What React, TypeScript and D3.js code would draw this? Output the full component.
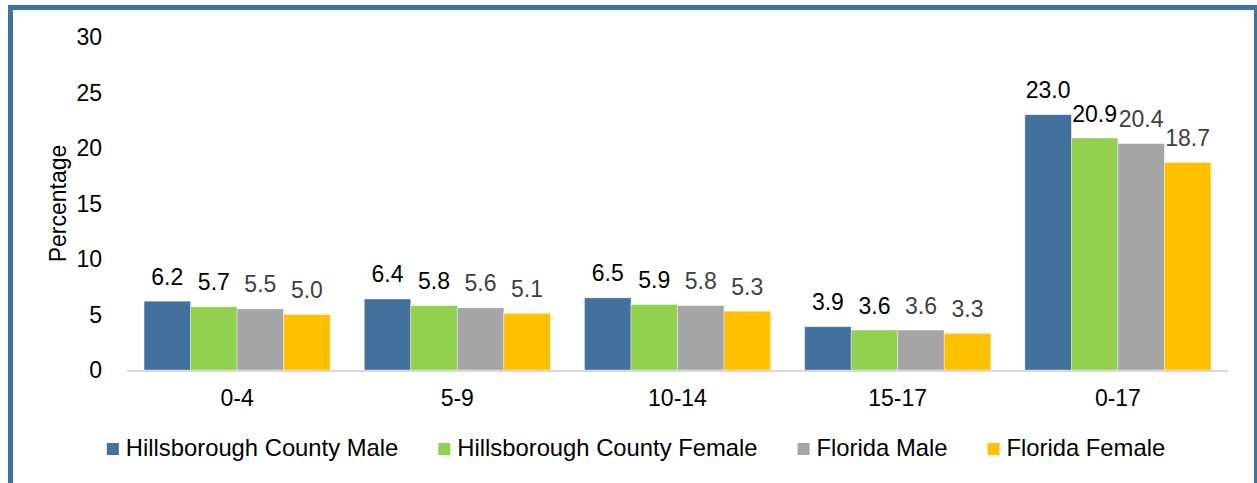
import React, { useRef, useEffect } from 'react';
import * as d3 from 'd3';

const ageGroups = ['0-4', '5-9', '10-14', '15-17', '0-17'];
const seriesNames = [
  'Hillsborough County Male',
  'Hillsborough County Female',
  'Florida Male',
  'Florida Female',
];
const hillsMale = [6.2, 6.4, 6.5, 3.9, 23.0];
const hillsFemale = [5.7, 5.8, 5.9, 3.6, 20.9];
const flMale = [5.5, 5.6, 5.8, 3.6, 20.4];
const flFemale = [5.0, 5.1, 5.3, 3.3, 18.7];
const yTicks = [0, 5, 10, 15, 20, 25, 30];

const colors = ['#41719C', '#92D050', '#A5A5A5', '#FFC000'];
const labelColors = ['#000000', '#000000', '#404040', '#404040'];

const W = 1257;
const H = 483;
const FONT = '"Liberation Sans", Arial, sans-serif';

function App() {
  const svgRef = useRef<SVGSVGElement | null>(null);

  useEffect(() => {
    const svg = d3.select(svgRef.current);
    svg.selectAll('*').remove();

    const allSeries = [hillsMale, hillsFemale, flMale, flFemale];

    // chart frame (blue border, thicker on the left/top)
    svg.append('rect').attr('x', 8).attr('y', 5).attr('width', W - 8).attr('height', 5).attr('fill', '#41719C');
    svg.append('rect').attr('x', 8).attr('y', 5).attr('width', 5).attr('height', H - 5).attr('fill', '#41719C');
    svg.append('rect').attr('x', W - 3).attr('y', 5).attr('width', 3).attr('height', H - 5).attr('fill', '#41719C');

    const x0 = d3.scaleBand().domain(ageGroups).range([127, 1228]).paddingInner(0.155).paddingOuter(0.0775);
    const x1 = d3.scaleBand().domain(seriesNames).range([0, x0.bandwidth()]);
    const y = d3.scaleLinear().domain([0, 30]).range([370, 37]);

    // y tick labels
    svg
      .append('g')
      .selectAll('text')
      .data(yTicks)
      .join('text')
      .attr('x', 102)
      .attr('y', (d) => y(d))
      .attr('dy', '0.35em')
      .attr('text-anchor', 'end')
      .attr('font-family', FONT)
      .attr('font-size', 23)
      .text((d) => d);

    svg
      .append('text')
      .attr('transform', `translate(66,${(y(0) + y(30)) / 2}) rotate(-90)`)
      .attr('text-anchor', 'middle')
      .attr('font-family', FONT)
      .attr('font-size', 23)
      .text('Percentage');

    // bars
    const groups = svg
      .append('g')
      .selectAll('g')
      .data(ageGroups)
      .join('g')
      .attr('transform', (d) => `translate(${x0(d)},0)`);

    groups
      .selectAll('rect')
      .data((_, i) => allSeries.map((s, k) => ({ name: seriesNames[k], value: s[i], k })))
      .join('rect')
      .attr('x', (d) => x1(d.name) as number)
      .attr('y', (d) => y(d.value))
      .attr('width', x1.bandwidth())
      .attr('height', (d) => y(0) - y(d.value))
      .attr('fill', (d) => colors[d.k])
      .attr('stroke', '#ffffff')
      .attr('stroke-opacity', 0.5)
      .attr('stroke-width', 0.75);

    groups
      .selectAll('text')
      .data((_, i) => allSeries.map((s, k) => ({ name: seriesNames[k], value: s[i], k })))
      .join('text')
      .attr('x', (d) => (x1(d.name) as number) + x1.bandwidth() / 2)
      .attr('y', (d) => y(d.value) - 16.5)
      .attr('text-anchor', 'middle')
      .attr('font-family', FONT)
      .attr('font-size', 23)
      .attr('fill', (d) => labelColors[d.k])
      .text((d) => d.value.toFixed(1));

    // x axis line + labels
    svg
      .append('line')
      .attr('x1', 127)
      .attr('x2', 1228)
      .attr('y1', y(0) + 1)
      .attr('y2', y(0) + 1)
      .attr('stroke', '#D9D9D9')
      .attr('stroke-width', 2);

    svg
      .append('g')
      .selectAll('text')
      .data(ageGroups)
      .join('text')
      .attr('x', (d) => (x0(d) as number) + x0.bandwidth() / 2)
      .attr('y', 406)
      .attr('text-anchor', 'middle')
      .attr('font-family', FONT)
      .attr('font-size', 23)
      .text((d) => d);

    // legend, laid out from measured text widths
    const legend = svg.append('g');
    let cursor = 0;
    seriesNames.forEach((name, k) => {
      const item = legend.append('g').attr('transform', `translate(${cursor},0)`);
      item.append('rect').attr('x', 0).attr('y', 443).attr('width', 12).attr('height', 12).attr('fill', colors[k]);
      const t = item
        .append('text')
        .attr('x', 19)
        .attr('y', 456)
        .attr('font-family', FONT)
        .attr('font-size', 23.8)
        .text(name);
      const w = (t.node() as SVGTextElement).getComputedTextLength();
      cursor += 19 + w + (k < seriesNames.length - 1 ? 40 : 0);
    });
    legend.attr('transform', `translate(${636 - cursor / 2},0)`);
  }, []);

  return (
    <svg
      ref={svgRef}
      width={W}
      height={H}
      style={{ position: 'absolute', left: 0, top: 0, background: '#fff' }}
    ></svg>
  );
}

export default App;
